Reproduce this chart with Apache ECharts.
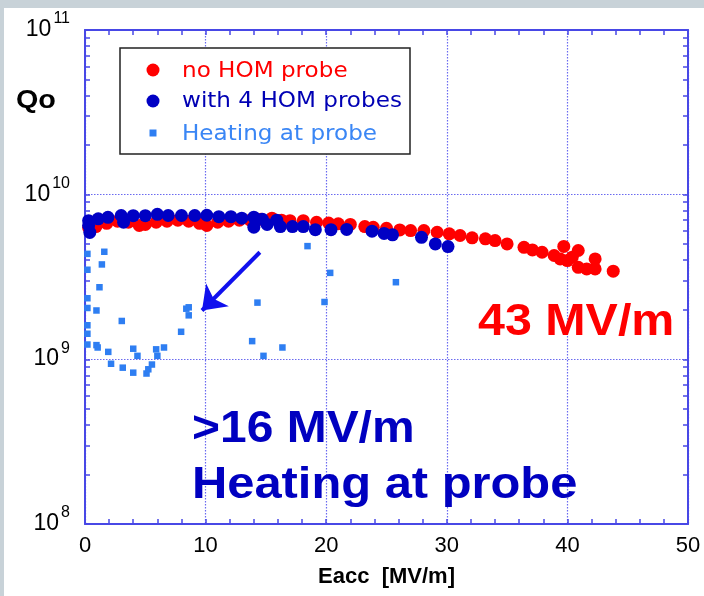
<!DOCTYPE html>
<html>
<head>
<meta charset="utf-8">
<script src="https://cdn.jsdelivr.net/npm/echarts@6/dist/echarts.min.js"></script>
<style>
html,body{margin:0;padding:0;}
body{width:704px;height:596px;overflow:hidden;
 background:linear-gradient(#ffffff,#ffffff) 4px 8px / 700px 588px no-repeat, #c8d2d8;}
#chart{width:704px;height:596px;}
</style>
</head>
<body>
<div id="chart"></div>
<script>
// ---- data (Eacc [MV/m], Qo) ----
const noHomE = [0.3,0.9,1.8,2.7,3.6,4.5,5.0,5.9,6.8,7.7,8.6,9.5,10.1,11.0,11.9,12.8,13.7,14.6,15.5,16.3,17.0,18.1,19.2,20.2,21.0,22.0,23.2,23.9,25.0,26.1,27.0,28.1,29.2,30.2,31.1,32.1,33.2,34.0,35.0,36.4,37.1,37.9,38.9,39.4,39.7,40.0,40.4,40.9,40.9,41.6,42.3,42.3,43.8];
const noHomQ = [6.3e9,6.4e9,6.7e9,6.9e9,6.8e9,6.5e9,6.6e9,6.8e9,6.9e9,7.0e9,6.9e9,6.7e9,6.5e9,6.8e9,6.9e9,7.0e9,7.0e9,7.1e9,7.2e9,7.0e9,6.95e9,6.95e9,6.8e9,6.73e9,6.66e9,6.6e9,6.4e9,6.34e9,6.25e9,6.11e9,6.05e9,6.05e9,5.91e9,5.78e9,5.65e9,5.47e9,5.39e9,5.26e9,5.02e9,4.79e9,4.62e9,4.47e9,4.27e9,4.07e9,4.85e9,3.98e9,4.17e9,4.58e9,3.62e9,3.54e9,4.07e9,3.54e9,3.43e9];

const withHomE = [0.3,0.3,0.4,1.1,1.9,3.0,3.2,4.0,5.0,6.0,6.9,8.0,9.1,10.1,11.1,12.1,13.0,14.0,14.0,14.7,15.1,15.9,16.2,17.2,18.1,19.1,20.4,21.7,23.8,24.8,25.5,27.9,29.05,30.1];
const withHomQ = [6.95e9,6.5e9,5.9e9,7.13e9,7.28e9,7.47e9,6.8e9,7.45e9,7.45e9,7.6e9,7.47e9,7.47e9,7.47e9,7.5e9,7.35e9,7.35e9,7.2e9,7.3e9,6.35e9,7.1e9,6.6e9,7.0e9,6.4e9,6.4e9,6.4e9,6.13e9,6.13e9,6.15e9,6.0e9,5.82e9,5.7e9,5.51e9,5.02e9,4.84e9];

const heatE = [0.2,1.6,0.2,1.4,1.2,0.2,0.2,0.95,3.05,0.2,0.2,0.2,0.95,1.05,1.93,2.16,3.13,4.0,4.0,4.35,5.1,5.25,5.55,5.9,6.0,6.55,7.97,8.4,8.6,8.6,14.3,13.86,14.8,16.37,18.45,20.33,19.86,25.78];
const heatQ = [4.37e9,4.5e9,3.5e9,3.77e9,2.74e9,2.35e9,2.05e9,1.98e9,1.71e9,1.61e9,1.43e9,1.23e9,1.22e9,1.18e9,1.11e9,9.4e8,8.9e8,8.3e8,1.16e9,1.05e9,8.2e8,8.7e8,9.3e8,1.15e9,1.05e9,1.18e9,1.47e9,2.03e9,2.07e9,1.85e9,2.21e9,1.29e9,1.05e9,1.18e9,4.87e9,3.35e9,2.23e9,2.94e9];

// arrow annotation (data coordinates): from -> to
const arrowFrom = [14.5, 4.47e9];
const arrowTo = [9.7, 1.98e9];

// axis ticks
const xMin = 0, xMax = 50, xStep = 10;
const yMin = 1e8, yMax = 1e11;
const yDecadeMin = 8, yDecadeMax = 11;
// minor tick positions 1..9 x 10^d, expressed as exponents (for helper tick axes)
const yMinorTickExps = [];
for (let d = yDecadeMin; d < yDecadeMax; d++) for (let m = 1; m <= 9; m++) yMinorTickExps.push(d + Math.log10(m));
yMinorTickExps.push(yDecadeMax);

const legendNames = ['no HOM probe', 'with 4 HOM probes', 'Heating at probe'];

const zip = (a, b) => a.map((v, i) => [v, b[i]]);

const AX = '#4848e6';
const GRIDC = '#6a6af0';
const RED = '#ff0000';
const DBLUE = '#0000c4';
const LBLUE = '#2e7ef2';
const FONT = '"Liberation Sans", Arial, sans-serif';

const chart = echarts.init(document.getElementById('chart'), null, {renderer: 'canvas'});

const tickStyle = {color: AX, width: 1.5};

const helperY = (pos, showLine) => ({
  type: 'value', position: pos, min: yDecadeMin, max: yDecadeMax,
  axisLine: {show: showLine, onZero: false, lineStyle: {color: AX, width: 2}},
  axisTick: {show: true, inside: true, length: 5, lineStyle: tickStyle, customValues: yMinorTickExps},
  axisLabel: {show: false}, splitLine: {show: false}
});

chart.setOption({
  animation: false,
  backgroundColor: 'transparent',
  grid: {left: 85, top: 30, width: 603, height: 494, containLabel: false},
  xAxis: [
    {
      type: 'value', position: 'bottom', min: xMin, max: xMax, interval: xStep,
      axisLine: {show: true, onZero: false, lineStyle: {color: AX, width: 2}},
      axisTick: {show: true, inside: true, length: 5, lineStyle: tickStyle},
      minorTick: {show: true, splitNumber: 5, length: 5, lineStyle: tickStyle},
      axisLabel: {color: '#000', fontSize: 22, fontFamily: FONT, margin: 11},
      splitLine: {show: true, lineStyle: {color: GRIDC, type: [1.5, 1.5], width: 1.2}},
      name: 'Eacc  [MV/m]', nameLocation: 'middle', nameGap: 42,
      nameTextStyle: {color: '#000', fontSize: 22, fontWeight: 'bold', fontFamily: FONT}
    },
    {
      type: 'value', position: 'top', min: xMin, max: xMax, interval: xStep,
      axisLine: {show: true, onZero: false, lineStyle: {color: AX, width: 2}},
      axisTick: {show: true, inside: true, length: 5, lineStyle: tickStyle},
      minorTick: {show: true, splitNumber: 5, length: 5, lineStyle: tickStyle},
      axisLabel: {show: false}, splitLine: {show: false}
    }
  ],
  yAxis: [
    {
      type: 'log', logBase: 10, position: 'left', min: yMin, max: yMax,
      axisLine: {show: true, onZero: false, lineStyle: {color: AX, width: 2}},
      axisTick: {show: false},
      axisLabel: {
        margin: 15, color: '#000', padding: [0, 0, 8, 0],
        formatter: v => '{b|10}{s|' + Math.round(Math.log10(v)) + '}',
        rich: {
          b: {fontSize: 23, lineHeight: 30, verticalAlign: 'bottom', color: '#000', fontFamily: FONT},
          s: {fontSize: 16, lineHeight: 10, verticalAlign: 'top', color: '#000', fontFamily: FONT, padding: [0, 0, 0, 2]}
        }
      },
      splitLine: {show: true, lineStyle: {color: GRIDC, type: [1.5, 1.5], width: 1.2}}
    },
    helperY('left', false),
    helperY('right', true)
  ],
  series: [
    {
      name: legendNames[0], type: 'scatter', xAxisIndex: 0, yAxisIndex: 0,
      symbol: 'circle', symbolSize: 13, itemStyle: {color: RED, opacity: 1},
      data: zip(noHomE, noHomQ), z: 3
    },
    {
      name: legendNames[1], type: 'scatter', xAxisIndex: 0, yAxisIndex: 0,
      symbol: 'circle', symbolSize: 13, itemStyle: {color: DBLUE, opacity: 1},
      data: zip(withHomE, withHomQ), z: 4
    },
    {
      name: legendNames[2], type: 'scatter', xAxisIndex: 0, yAxisIndex: 0,
      symbol: 'rect', symbolSize: 6.5, itemStyle: {color: LBLUE, opacity: 1},
      data: zip(heatE, heatQ), z: 5,
      markLine: {
        silent: true, animation: false,
        symbol: ['none', 'arrow'], symbolSize: [24, 22],
        lineStyle: {color: '#1010ee', width: 4, type: 'solid'},
        label: {show: false},
        data: [[{coord: arrowFrom}, {coord: arrowTo}]]
      }
    }
  ],
  graphic: [
    {type: 'rect', shape: {x: 120, y: 48, width: 290, height: 106}, style: {fill: '#fff', stroke: '#222', lineWidth: 1.5}, z: 10},
    {type: 'circle', shape: {cx: 153, cy: 70, r: 6.5}, style: {fill: RED}, z: 11},
    {type: 'circle', shape: {cx: 153, cy: 101, r: 6.5}, style: {fill: DBLUE}, z: 11},
    {type: 'rect', shape: {x: 149.5, y: 129.5, width: 7, height: 7}, style: {fill: LBLUE}, z: 11},
    {type: 'text', x: 182, y: 71.5, scaleX: 1.1, z: 11, style: {text: legendNames[0], font: '21px "DejaVu Sans", sans-serif', fill: RED, align: 'left', verticalAlign: 'middle', textAlign: 'left', textVerticalAlign: 'middle'}},
    {type: 'text', x: 182, y: 102, scaleX: 1.1, z: 11, style: {text: legendNames[1], font: '21px "DejaVu Sans", sans-serif', fill: '#0000b4', align: 'left', verticalAlign: 'middle', textAlign: 'left', textVerticalAlign: 'middle'}},
    {type: 'text', x: 182, y: 135, scaleX: 1.1, z: 11, style: {text: legendNames[2], font: '21px "DejaVu Sans", sans-serif', fill: '#3a86f5', align: 'left', verticalAlign: 'middle', textAlign: 'left', textVerticalAlign: 'middle'}},
    {type: 'text', x: 16, y: 101, scaleX: 1.15, z: 11, style: {text: 'Qo', font: 'bold 25px ' + FONT, fill: '#000', align: 'left', verticalAlign: 'middle', textAlign: 'left', textVerticalAlign: 'middle'}},
    {type: 'text', x: 478, y: 323, scaleX: 1.1, z: 11, style: {text: '43 MV/m', font: 'bold 44px ' + FONT, fill: RED, align: 'left', verticalAlign: 'middle', textAlign: 'left', textVerticalAlign: 'middle'}},
    {type: 'text', x: 192, y: 429.5, scaleX: 1.09, z: 11, style: {text: '>16 MV/m', font: 'bold 44px ' + FONT, fill: '#0000c0', align: 'left', verticalAlign: 'middle', textAlign: 'left', textVerticalAlign: 'middle'}},
    {type: 'text', x: 192, y: 485.5, scaleX: 1.11, z: 11, style: {text: 'Heating at probe', font: 'bold 44px ' + FONT, fill: '#0000c0', align: 'left', verticalAlign: 'middle', textAlign: 'left', textVerticalAlign: 'middle'}}
  ]
});
</script>
</body>
</html>
